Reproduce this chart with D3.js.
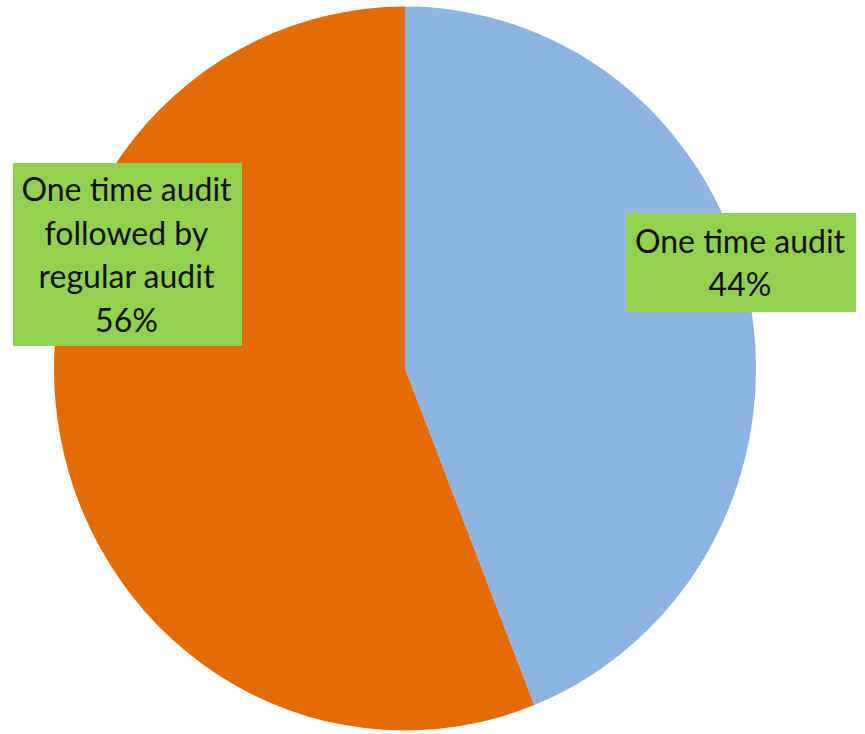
<!DOCTYPE html>
<html>
<head>
<meta charset="utf-8">
<script src="https://cdn.jsdelivr.net/npm/d3@7"></script>
<style>
  body { margin: 0; background: #fff; }
</style>
</head>
<body>
<div id="chart-area"></div>
<script>
/*
*    pie chart
*/

const categories = ["One time audit", "One time audit followed by regular audit"];
const values = [44, 56];
const labelLines = [["One time audit", "44%"], ["One time audit", "followed by", "regular audit", "56%"]];

const colors = ["#8EB4E3", "#E36C09"];

const width = 865;
const height = 734;

const cx = 405, cy = 368.5;
const rx = 351, ry = 362;

// label boxes as placed in the original
const boxes = [
    {x: 626, y: 213, w: 230, h: 99},
    {x: 13, y: 163, w: 229, h: 183}
];

const data = categories.map((c, i) => ({name: c, value: values[i], lines: labelLines[i]}));

const svg = d3.select("#chart-area")
    .append("svg")
    .attr("width", width)
    .attr("height", height);

const pie = d3.pie()
    .sort(null)
    .value(d => d.value);

const arc = d3.arc()
    .innerRadius(0)
    .outerRadius(rx);

const g = svg.append("g")
    .attr("transform", "translate(" + cx + "," + cy + ") scale(1," + (ry / rx) + ")");

g.selectAll("path")
    .data(pie(data))
    .enter()
    .append("path")
        .attr("d", arc)
        .attr("fill", (d, i) => colors[i])
        .attr("stroke", "none");

const lineH = 43.5;

const labels = svg.selectAll(".label")
    .data(data)
    .enter()
    .append("g")
        .attr("class", "label");

labels.append("rect")
    .attr("x", (d, i) => boxes[i].x)
    .attr("y", (d, i) => boxes[i].y)
    .attr("width", (d, i) => boxes[i].w)
    .attr("height", (d, i) => boxes[i].h)
    .attr("fill", "#92D050");

labels.each(function(d, i) {
    const b = boxes[i];
    const n = d.lines.length;
    const firstBase = b.y + b.h / 2 - (n - 1) * lineH / 2 + 12;
    d3.select(this).selectAll("text")
        .data(d.lines)
        .enter()
        .append("text")
            .attr("x", b.x + b.w / 2 - 1)
            .attr("y", (t, j) => firstBase + j * lineH)
            .attr("text-anchor", "middle")
            .attr("font-family", "Lato, 'Open Sans', sans-serif")
            .attr("font-size", "32px")
            .attr("fill", "#111")
            .text(t => t);
});
</script>
</body>
</html>
